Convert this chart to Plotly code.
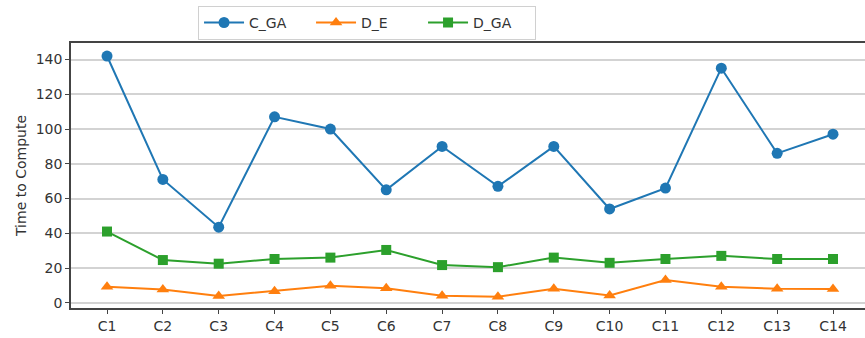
import plotly.graph_objects as go

# Configurations compared
configs = ["C1", "C2", "C3", "C4", "C5", "C6", "C7", "C8", "C9", "C10", "C11", "C12", "C13", "C14"]

# Time to compute for each method
c_ga = [142, 71, 43.5, 107, 100, 65, 90, 67, 90, 54, 66, 135, 86, 97]
d_e = [9.2, 7.7, 3.9, 6.7, 9.8, 8.3, 4.1, 3.5, 8.1, 4.2, 13.1, 9.2, 8.1, 7.9]
d_ga = [41, 24.6, 22.5, 25.2, 26, 30.4, 21.7, 20.5, 26, 23, 25.2, 27, 25.2, 25.2]

series = [
    ("C_GA", c_ga, "#1f77b4", "circle", 11),
    ("D_E", d_e, "#ff7f0e", "triangle-up", 11),
    ("D_GA", d_ga, "#2ca02c", "square", 10),
]

fig = go.Figure()
for name, vals, color, symbol, size in series:
    fig.add_trace(go.Scatter(
        x=list(range(len(configs))), y=vals, name=name, mode="lines+markers",
        line=dict(color=color, width=2),
        marker=dict(color=color, symbol=symbol, size=size),
    ))

font = dict(family="DejaVu Sans", size=14, color="#333333")
fig.update_layout(
    width=865, height=338,
    margin=dict(l=71, r=0, t=43, b=30),
    paper_bgcolor="white", plot_bgcolor="white",
    font=font,
    showlegend=True,
    legend=dict(
        orientation="h", x=0.16, y=1.14, xanchor="left", yanchor="top",
        bordercolor="#d0d0d0", borderwidth=1, bgcolor="white",
        font=font, itemwidth=40, entrywidth=57,
    ),
    xaxis=dict(
        range=[-0.645, 13.573], tickmode="array",
        tickvals=list(range(len(configs))), ticktext=configs,
        showgrid=False, zeroline=False,
        showline=True, linecolor="#444444", linewidth=1.5, mirror=True,
        ticks="outside", ticklen=4, tickcolor="#444444",
    ),
    yaxis=dict(
        range=[-3, 149.5], tickmode="array", tickvals=[0, 20, 40, 60, 80, 100, 120, 140],
        showgrid=True, gridcolor="#d3d3d3", gridwidth=1.5, zeroline=False,
        showline=True, linecolor="#444444", linewidth=1.5, mirror=False,
        ticks="outside", ticklen=4, tickcolor="#444444",
        title=dict(text="Time to Compute", font=font, standoff=6),
    ),
)

fig.write_html("out.html")
